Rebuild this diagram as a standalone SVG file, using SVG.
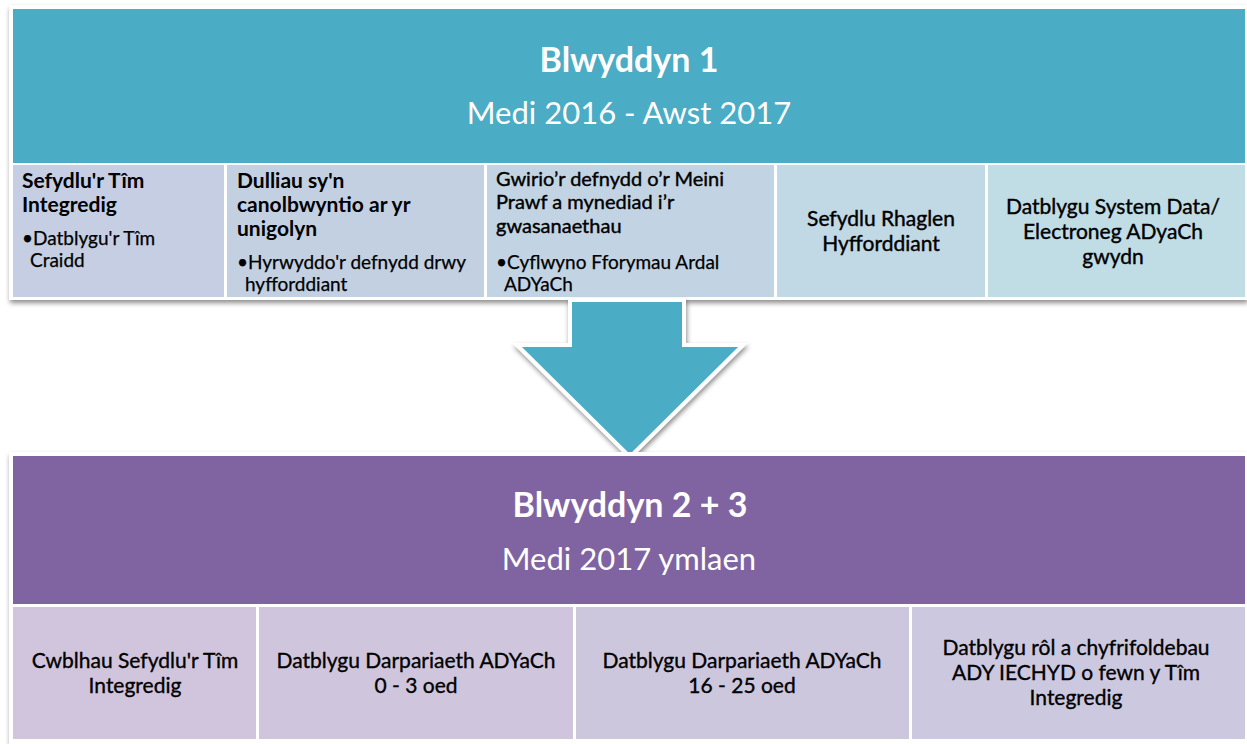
<svg xmlns="http://www.w3.org/2000/svg" width="1247" height="744" viewBox="0 0 1247 744">
<defs>
<filter id="sh" x="-5%" y="-5%" width="110%" height="115%">
<feGaussianBlur in="SourceAlpha" stdDeviation="2.5"/>
<feOffset dx="1" dy="3" result="b"/>
<feComponentTransfer><feFuncA type="linear" slope="0.45"/></feComponentTransfer>
<feMerge><feMergeNode/><feMergeNode in="SourceGraphic"/></feMerge>
</filter>
</defs>
<style>
text{font-family:Lato,"Open Sans","Liberation Sans",sans-serif;fill:#000}
.h{font-size:34px;font-weight:bold;fill:#fff;text-anchor:middle}
.s{font-size:31px;fill:#fff;text-anchor:middle}
.b{font-size:21px;font-weight:bold}
.r{font-size:19px;stroke:#000;stroke-width:0.25}
.g{font-size:20px;stroke:#000;stroke-width:0.4}
.k{font-size:21px;stroke:#000;stroke-width:0.4;text-anchor:middle}
.m{font-size:21px;stroke:#000;stroke-width:0.35;text-anchor:middle}
</style>
<rect width="1247" height="744" fill="#fff"/>

<g id="year1">
<rect x="9" y="5" width="1238" height="295" fill="#fff" filter="url(#sh)"/>
<rect x="13" y="9" width="1232" height="154" fill="#4bacc6"/>
<text class="h" x="629" y="72">Blwyddyn 1</text>
<text class="s" x="629" y="124">Medi 2016 - Awst 2017</text>
</g>

<g id="y1c1">
<rect x="13" y="165" width="211" height="132" fill="#c5cee2"/>
<text class="b" x="22" y="188">Sefydlu'r Tîm</text>
<text class="b" x="22" y="212">Integredig</text>
<text class="r" x="22" y="245">•Datblygu'r Tîm</text>
<text class="r" x="30" y="267">Craidd</text>
</g>
<g id="y1c2">
<rect x="227" y="165" width="257" height="132" fill="#c3d0e2"/>
<text class="b" x="237" y="188">Dulliau sy'n</text>
<text class="b" x="237" y="212">canolbwyntio ar yr</text>
<text class="b" x="237" y="236">unigolyn</text>
<text class="r" x="237" y="269">•Hyrwyddo'r defnydd drwy</text>
<text class="r" x="245" y="291">hyfforddiant</text>
</g>
<g id="y1c3">
<rect x="487" y="165" width="287" height="132" fill="#c2d4e3"/>
<text class="g" x="496" y="186">Gwirio’r defnydd o’r Meini</text>
<text class="g" x="496" y="209">Prawf a mynediad i’r</text>
<text class="g" x="496" y="233">gwasanaethau</text>
<text class="r" x="496" y="269">•Cyflwyno Fforymau Ardal</text>
<text class="r" x="504" y="291">ADYaCh</text>
</g>
<g id="y1c4">
<rect x="777" y="165" width="208" height="132" fill="#c1d8e5"/>
<text class="k" x="881" y="226">Sefydlu Rhaglen</text>
<text class="k" x="881" y="251">Hyfforddiant</text>
</g>
<g id="y1c5">
<rect x="988" y="165" width="257" height="132" fill="#c0dde6"/>
<text class="k" x="1113" y="214">Datblygu System Data/</text>
<text class="k" x="1113" y="239">Electroneg ADyaCh</text>
<text class="k" x="1113" y="264">gwydn</text>
</g>

<g id="connectors">
<path d="M570,300 L684,300 L684,345 L743,345 L630,457 L517,345 L570,345 Z" fill="#4bacc6" stroke="#fff" stroke-width="4" stroke-linejoin="miter" filter="url(#sh)"/>
</g>

<g id="year2">
<rect x="9" y="452" width="1238" height="292" fill="#fff" filter="url(#sh)"/>
<rect x="13" y="456" width="1232" height="148" fill="#8064a2"/>
<text class="h" x="630" y="517">Blwyddyn 2 + 3</text>
<text class="s" x="629" y="570">Medi 2017 ymlaen</text>
</g>

<g id="y2c1">
<rect x="13" y="607" width="243" height="132" fill="#d0c5dc"/>
<text class="m" x="135" y="668">Cwblhau Sefydlu'r Tîm</text>
<text class="m" x="135" y="693">Integredig</text>
</g>
<g id="y2c2">
<rect x="259" y="607" width="314" height="132" fill="#cfc6dd"/>
<text class="m" x="416" y="668">Datblygu Darpariaeth ADYaCh</text>
<text class="m" x="416" y="693">0 - 3 oed</text>
</g>
<g id="y2c3">
<rect x="576" y="607" width="333" height="132" fill="#cdc7de"/>
<text class="m" x="742" y="668">Datblygu Darpariaeth ADYaCh</text>
<text class="m" x="742" y="693">16 - 25 oed</text>
</g>
<g id="y2c4">
<rect x="912" y="607" width="333" height="132" fill="#ccc8df"/>
<text class="m" x="1076" y="655">Datblygu rôl a chyfrifoldebau</text>
<text class="m" x="1076" y="680">ADY IECHYD o fewn y Tîm</text>
<text class="m" x="1076" y="705">Integredig</text>
</g>
</svg>
